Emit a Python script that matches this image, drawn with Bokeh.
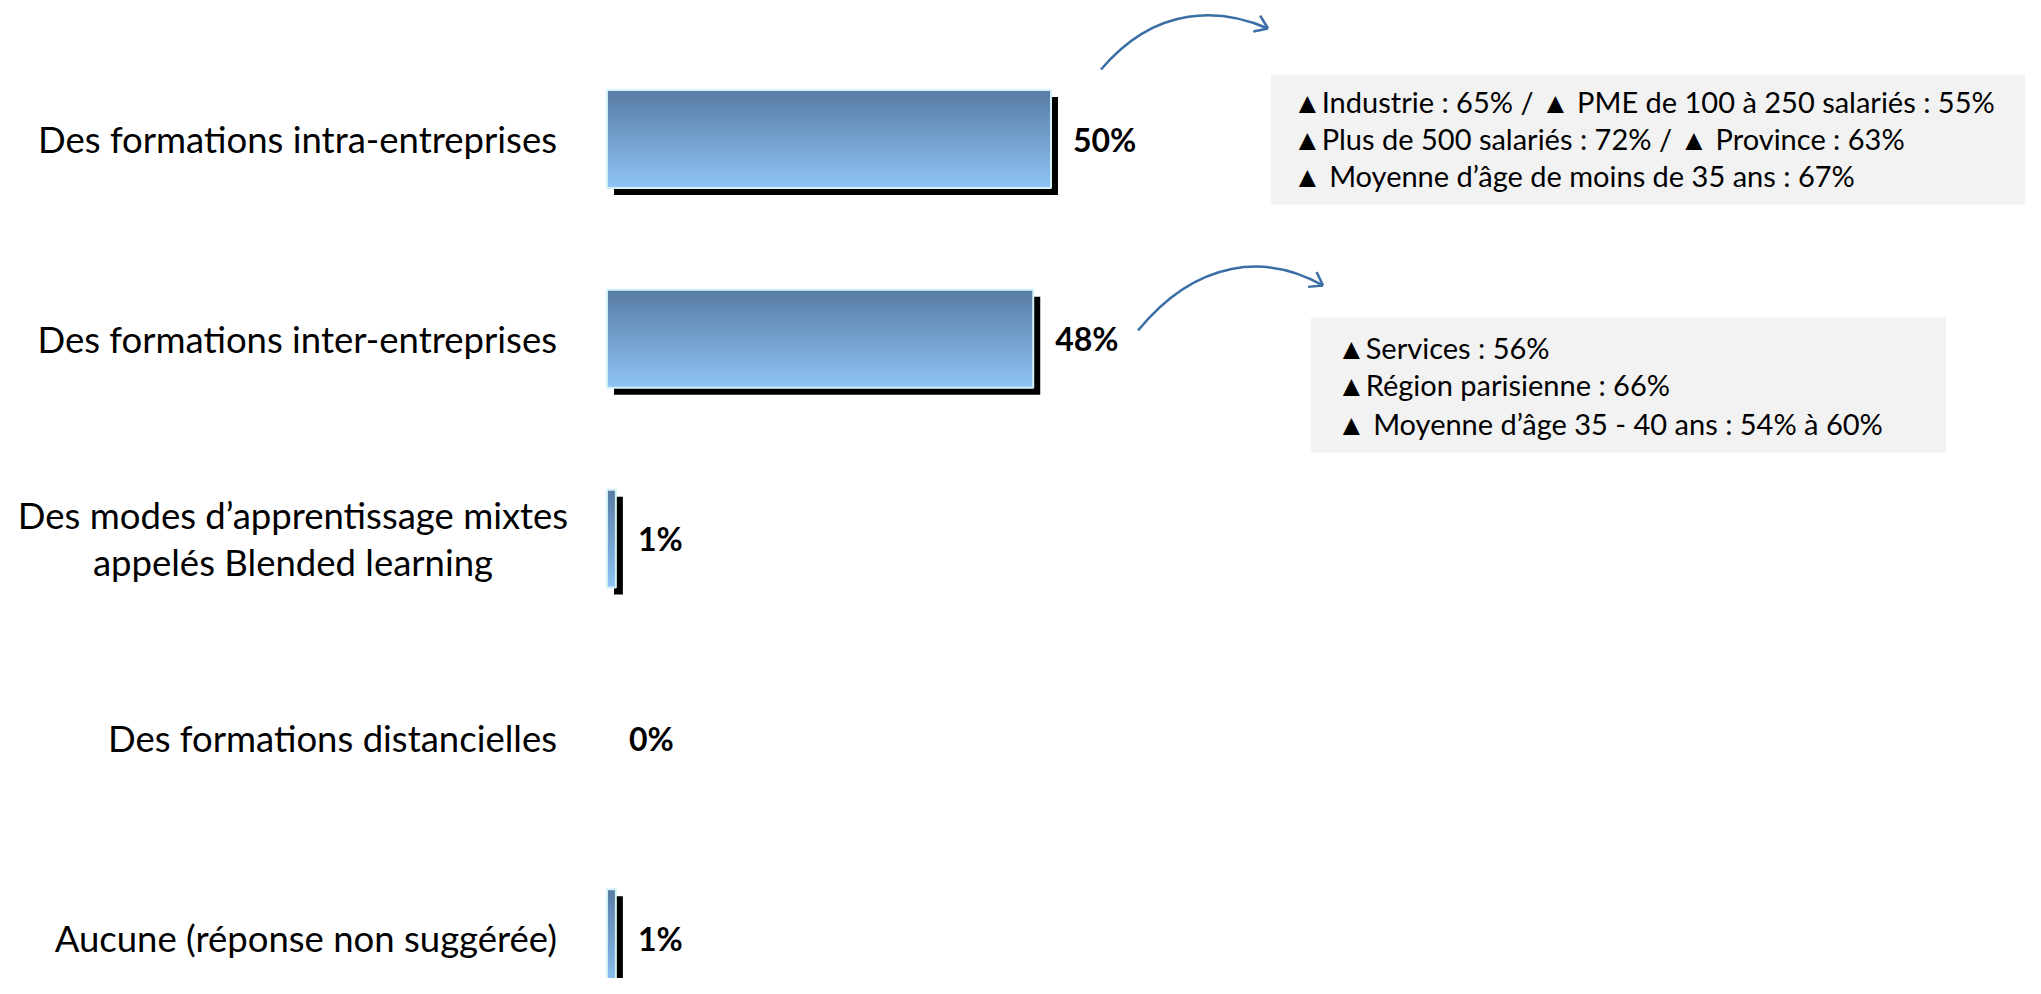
from bokeh.plotting import figure
from bokeh.models import Range1d
from bokeh.core.properties import value
from bokeh.embed import file_html
from bokeh.resources import INLINE
import math

# ---------------- data ----------------
categories = [
    "Des formations intra-entreprises",
    "Des formations inter-entreprises",
    "Des modes d\u2019apprentissage mixtes\nappel\u00e9s Blended learning",
    "Des formations distancielles",
    "Aucune (r\u00e9ponse non sugg\u00e9r\u00e9e)",
]
values = [50, 48, 1, 0, 1]
value_labels = ["50%", "48%", "1%", "0%", "1%"]

note1_lines = [
    "\u25b2Industrie : 65% / \u25b2 PME de 100 \u00e0 250 salari\u00e9s : 55%",
    "\u25b2Plus de 500 salari\u00e9s : 72% / \u25b2 Province : 63%",
    "\u25b2 Moyenne d\u2019\u00e2ge de moins de 35 ans : 67%",
]
note2_lines = [
    "\u25b2Services : 56%",
    "\u25b2R\u00e9gion parisienne : 66%",
    "\u25b2 Moyenne d\u2019\u00e2ge 35 - 40 ans : 54% \u00e0 60%",
]

# ---------------- layout helpers ----------------
W, H = 2025, 978
OFFX, OFFY = 6.5, 8.0
PX_ZERO = 600.0 + OFFX   # plot px of 0 %
PX_PER_UNIT = 8.88       # px per percent
PY_FIRST = 138.5         # plot px (from top) of first category centre
PY_STEP = 199.8
N = len(categories)
Y_TOP = (N - 1) + PY_FIRST / PY_STEP


def dx(px):
    return (px - PX_ZERO) / PX_PER_UNIT


def dy(py):
    return Y_TOP - py / PY_STEP


def ax(px):
    return dx(px + OFFX)


def ay(py):
    return dy(py + OFFY)


FONT = "Lato"

p = figure(width=W, height=H, x_range=Range1d(dx(0), dx(W)), y_range=Range1d(dy(H), dy(0)),
           output_backend="svg", toolbar_location=None, min_border=0,
           x_axis_location=None, y_axis_location=None)
p.grid.visible = False
p.outline_line_color = None
p.background_fill_color = "white"

ys = [N - 1 - i for i in range(N)]
bar_h = 0.49

# shadows
sh_x = 7 / PX_PER_UNIT
sh_y = 7 / PY_STEP
p.quad(left=[sh_x] * N, right=[v + sh_x for v in values],
       top=[y + bar_h / 2 - sh_y for y in ys], bottom=[y - bar_h / 2 - sh_y for y in ys],
       fill_color="black", line_color=None)

# gradient bars (horizontal stripes of colour)
top_c = (88, 124, 164)
bot_c = (142, 196, 246)
NS = 30
overlap = 2.5 / PY_STEP
L, R, T, B, C = [], [], [], [], []
for v, y in zip(values, ys):
    if v <= 0:
        continue
    for k in range(NS):
        t0, t1 = k / NS, (k + 1) / NS
        tm = (t0 + t1) / 2
        col = tuple(int(round(a + (b - a) * tm)) for a, b in zip(top_c, bot_c))
        L.append(0)
        R.append(v)
        T.append(y + bar_h / 2 - t0 * bar_h)
        bottom = y + bar_h / 2 - t1 * bar_h
        if k < NS - 1:
            bottom -= overlap
        B.append(bottom)
        C.append("#%02x%02x%02x" % col)
p.quad(left=L, right=R, top=T, bottom=B, fill_color=C, line_color=None)
# light border
p.quad(left=[0] * N, right=values, top=[y + bar_h / 2 for y in ys], bottom=[y - bar_h / 2 for y in ys],
       fill_color=None, line_color="#d4f1f6", line_width=2,
       line_alpha=[1 if v > 0 else 0 for v in values])

# value labels
p.text(x=values, y=ys, text=value_labels, x_offset=22, text_align="left", text_baseline="middle",
       text_font=value(FONT), text_font_style="bold", text_font_size="32px", text_color="black")

# category labels
single = [i for i, c in enumerate(categories) if "\n" not in c]
multi = [i for i, c in enumerate(categories) if "\n" in c]
p.text(x=[ax(550)] * len(single), y=[ys[i] for i in single], text=[categories[i] for i in single],
       text_align="right", text_baseline="middle", text_font=value(FONT), text_font_size="36.5px",
       text_color="black")
p.text(x=[ax(286)] * len(multi), y=[ys[i] for i in multi], text=[categories[i] for i in multi],
       text_align="center", text_baseline="middle", text_font=value(FONT), text_font_size="36.5px",
       text_line_height=1.07, text_color="black")

# note boxes
p.quad(left=[ax(1264), ax(1304)], right=[ax(2040), ax(1939)], top=[ay(66), ay(309)],
       bottom=[ay(196), ay(444)], fill_color="#f2f2f2", line_color=None)
p.text(x=[ax(1286)] * 3, y=[ay(93), ay(130), ay(167)], text=note1_lines, text_align="left",
       text_baseline="middle", text_font=value(FONT), text_font_size="29px", text_color="black")
p.text(x=[ax(1330)] * 3, y=[ay(339), ay(376), ay(415)], text=note2_lines, text_align="left",
       text_baseline="middle", text_font=value(FONT), text_font_size="29px", text_color="black")

# curved arrows
ARROW = "#3a6ea5"
for (p0, p1, p2, p3) in [((1094, 61), (1150, -5), (1215, 0), (1261, 20)),
                         ((1131, 322), (1190, 250), (1260, 245), (1316, 277))]:
    p.bezier(x0=[ax(p0[0])], y0=[ay(p0[1])], x1=[ax(p3[0])], y1=[ay(p3[1])],
             cx0=[ax(p1[0])], cy0=[ay(p1[1])], cx1=[ax(p2[0])], cy1=[ay(p2[1])],
             line_color=ARROW, line_width=2.5)
    ang = math.atan2(p3[1] - p2[1], p3[0] - p2[0])
    hx, hy = [], []
    for s in (+1, -1):
        a = ang + math.pi + s * math.radians(35)
        hx.append([ax(p3[0] + 15 * math.cos(a)), ax(p3[0])])
        hy.append([ay(p3[1] + 15 * math.sin(a)), ay(p3[1])])
    p.multi_line(xs=hx, ys=hy, line_color=ARROW, line_width=2.5)

open("out.html", "w").write(file_html(p, INLINE))
